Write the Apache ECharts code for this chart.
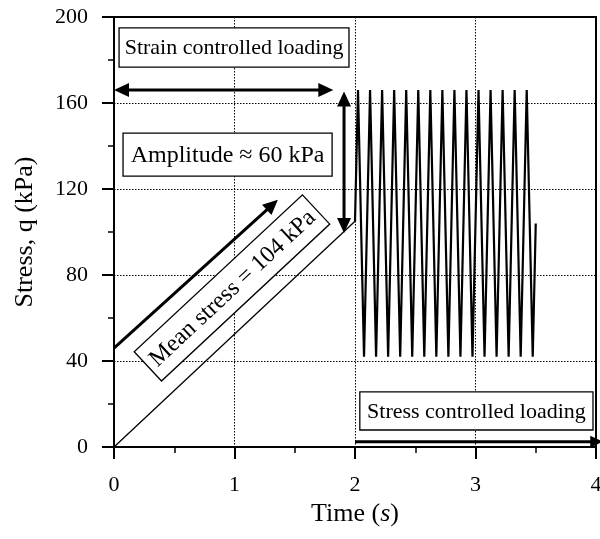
<!DOCTYPE html>
<html><head><meta charset="utf-8">
<script src="https://cdn.jsdelivr.net/npm/echarts@6/dist/echarts.min.js"></script>
<style>html,body{margin:0;padding:0;background:#fff}#c{width:600px;height:539px}</style>
</head><body><div id="c"></div>
<script>
// ---- data ----
const xTicks = [0, 1, 2, 3, 4];
const yTicks = [0, 40, 80, 120, 160, 200];
// monotonic (mean-stress) ramp
const rampTime   = [0, 2.0];
const rampStress = [0, 105];
// cyclic loading
const cycTime = [2.0, 2.025, 2.075, 2.125, 2.175, 2.225, 2.275, 2.325, 2.375, 2.425, 2.475,
                 2.525, 2.575, 2.625, 2.675, 2.725, 2.775, 2.825, 2.875, 2.925, 2.975,
                 3.025, 3.075, 3.125, 3.175, 3.225, 3.275, 3.325, 3.375, 3.425, 3.475, 3.5];
const cycStress = [105, 166, 42, 166, 42, 166, 42, 166, 42, 166, 42,
                   166, 42, 166, 42, 166, 42, 166, 42, 166, 42,
                   166, 42, 166, 42, 166, 42, 166, 42, 166, 42, 104];
// annotation texts
const labelStrain = 'Strain controlled loading';
const labelAmp = 'Amplitude \u2248 60 kPa';
const labelMean = 'Mean stress = 104 kPa';
const labelStress = 'Stress controlled loading';

const FONT = '"Liberation Serif","Times New Roman",serif';
const zip = (a, b) => a.map((v, i) => [v, b[i]]);

const option = {
  animation: false,
  backgroundColor: '#fff',
  grid: { left: 114, right: 4, top: 17, bottom: 92, show: true, borderColor: '#000', borderWidth: 2,
          containLabel: false, outerBoundsMode: 'none' },
  xAxis: {
    type: 'value', min: xTicks[0], max: xTicks[xTicks.length - 1], interval: 1,
    name: '{a|Time (}{i|s}{a|)}', nameLocation: 'middle', nameGap: 52,
    nameTextStyle: { rich: { a: { fontFamily: FONT, fontSize: 26, color: '#000' },
                             i: { fontFamily: FONT, fontSize: 26, fontStyle: 'italic', color: '#000' } } },
    axisLine: { lineStyle: { color: '#000', width: 2 } },
    axisTick: { length: 12, lineStyle: { color: '#000', width: 2 } },
    minorTick: { show: true, splitNumber: 2, length: 6, lineStyle: { color: '#000', width: 1.5 } },
    axisLabel: { fontFamily: FONT, fontSize: 22, color: '#000', margin: 27 },
    splitLine: { show: true, lineStyle: { color: '#000', width: 1, type: [1.5, 1.5] } }
  },
  yAxis: {
    type: 'value', min: yTicks[0], max: yTicks[yTicks.length - 1], interval: 40,
    name: 'Stress, q (kPa)', nameLocation: 'middle', nameGap: 76,
    nameTextStyle: { fontFamily: FONT, fontSize: 26, color: '#000' },
    axisLine: { lineStyle: { color: '#000', width: 2 } },
    axisTick: { length: 12, lineStyle: { color: '#000', width: 2 } },
    minorTick: { show: true, splitNumber: 2, length: 6, lineStyle: { color: '#000', width: 1.5 } },
    axisLabel: { fontFamily: FONT, fontSize: 22, color: '#000', margin: 26 },
    splitLine: { show: true, lineStyle: { color: '#000', width: 1, type: [1.5, 1.5] } }
  },
  series: [
    { type: 'line', data: zip(rampTime, rampStress), showSymbol: false, symbol: 'none',
      lineStyle: { color: '#000', width: 1.3 }, z: 5 },
    { type: 'line', data: zip(cycTime, cycStress), showSymbol: false, symbol: 'none',
      lineStyle: { color: '#000', width: 2.2, join: 'miter', miterLimit: 3 }, z: 5 }
  ]
};

const chart = echarts.init(document.getElementById('c'), null, { renderer: 'canvas' });
chart.setOption(option);
const P = (x, y) => chart.convertToPixel({ gridIndex: 0 }, [x, y]);

function arrowEls(a, b, both, lw, hl, hw) {
  const dx = b[0] - a[0], dy = b[1] - a[1], L = Math.hypot(dx, dy);
  const ux = dx / L, uy = dy / L, nx = -uy, ny = ux;
  const head = (tip, d) => {
    const bx = tip[0] - d[0] * hl, by = tip[1] - d[1] * hl;
    return { type: 'polygon', z: 100,
      shape: { points: [tip, [bx + nx * hw, by + ny * hw], [bx - nx * hw, by - ny * hw]] },
      style: { fill: '#000' } };
  };
  const els = [head(b, [ux, uy])];
  let s = a, e = [b[0] - ux * hl * 0.7, b[1] - uy * hl * 0.7];
  if (both) { els.push(head(a, [-ux, -uy])); s = [a[0] + ux * hl * 0.7, a[1] + uy * hl * 0.7]; }
  els.push({ type: 'line', z: 99, shape: { x1: s[0], y1: s[1], x2: e[0], y2: e[1] },
             style: { stroke: '#000', lineWidth: lw } });
  return els;
}
function boxEl(cx, cy, w, h, text, fs, rot) {
  return { type: 'group', x: cx, y: cy, rotation: rot || 0, z: 101, children: [
    { type: 'rect', z: 101, shape: { x: -w / 2, y: -h / 2, width: w, height: h },
      style: { fill: '#fff', stroke: '#000', lineWidth: 1.3 } },
    { type: 'text', z: 102, x: 0, y: 1, style: { text: text, font: fs + 'px ' + FONT, fill: '#000',
      align: 'center', verticalAlign: 'middle' } }
  ] };
}
function boxFromData(x0, y0, x1, y1, text, fs) {
  const p0 = P(x0, y0), p1 = P(x1, y1);
  return boxEl((p0[0] + p1[0]) / 2, (p0[1] + p1[1]) / 2, Math.abs(p1[0] - p0[0]), Math.abs(p1[1] - p0[1]), text, fs);
}

const els = [];
els.push(...arrowEls(P(0, 166), P(1.82, 166), true, 3, 15, 7));
els.push(...arrowEls(P(1.909, 165.3), P(1.909, 99.5), true, 3, 15, 7));
els.push(...arrowEls(P(0, 46), P(1.36, 115), false, 3, 15, 7));
els.push(...arrowEls(P(2, 2.5), P(4.06, 2.5), false, 3, 13, 6));
els.push(boxFromData(0.042, 194.9, 1.95, 176.7, labelStrain, 22));
els.push(boxFromData(0.075, 146, 1.81, 126, labelAmp, 24));
els.push(boxFromData(2.04, 25.6, 3.975, 7.9, labelStress, 22));
const mc = P(0.979, 74);
els.push(boxEl(mc[0], mc[1], 230, 40, labelMean, 24, 43 * Math.PI / 180));
chart.setOption({ graphic: { elements: els } });
</script>
</body></html>
